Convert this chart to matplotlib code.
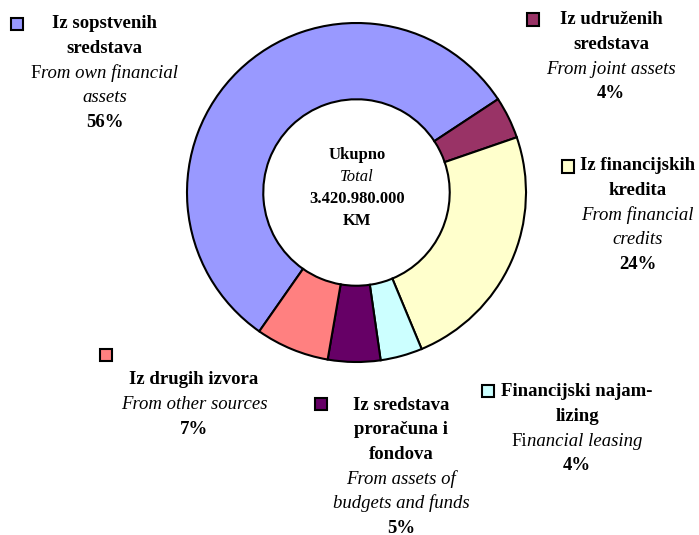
import matplotlib.pyplot as plt
from matplotlib.patches import Rectangle

plt.rcParams['font.family'] = ['Liberation Serif', 'DejaVu Serif']

W, H = 699, 535

# data
sources_bs = [
    ["Iz sopstvenih", "sredstava"],
    ["Iz udruženih", "sredstava"],
    ["Iz financijskih", "kredita"],
    ["Financijski najam-", "lizing"],
    ["Iz sredstava", "proračuna i", "fondova"],
    ["Iz drugih izvora"],
]
sources_en = [
    ["From own financial", "assets"],
    ["From joint assets"],
    ["From financial", "credits"],
    ["Financial leasing"],
    ["From assets of", "budgets and funds"],
    ["From other sources"],
]
shares = [56, 4, 24, 4, 5, 7]
colors = ["#9999FF", "#993366", "#FFFFCC", "#CCFFFF", "#660066", "#FF8080"]
total_lines = ["Ukupno", "Total", "3.420.980.000", "KM"]
# a few english lines start with upright letters in the original
upright_prefix = {"From own financial": 1, "Financial leasing": 2}

# layout (pixels from top-left): marker centre, text centre x, first line y
marker_xy = [(16.5, 24), (533, 19.5), (568, 166.5), (488, 391), (321, 404), (105.5, 355)]
text_x = [104.5, 611, 637.5, 577, 401, 194]
text_y0 = [24, 20, 166, 392, 405, 380]
step = 24.6
fs = 13.5

fig = plt.figure(figsize=(W / 100, H / 100), dpi=100)

cx, cy, r = 356.5, 192.5, 169.5
pad = 1.02
ax = fig.add_axes([(cx - r * pad) / W, (H - cy - r * pad) / H, 2 * r * pad / W, 2 * r * pad / H])
ax.pie(shares, colors=colors, startangle=235, counterclock=False, radius=1,
       wedgeprops=dict(width=0.45, edgecolor='black', linewidth=1.5))
ax.set_xlim(-pad, pad)
ax.set_ylim(-pad, pad)
ax.set_aspect('equal')
ax.axis('off')

renderer = fig.canvas.get_renderer()


def put_line(x, y, txt, weight='bold', style='normal', size=fs):
    n = upright_prefix.get(txt, 0)
    parts = [(txt[:n], 'normal'), (txt[n:], style)] if n else [(txt, style)]
    arts = [fig.text(0, 1 - y / H, p, fontsize=size, weight=weight, style=s,
                     ha='left', va='center') for p, s in parts]
    widths = [a.get_window_extent(renderer).width for a in arts]
    left = x - sum(widths) / 2
    for a, w in zip(arts, widths):
        a.set_x(left / W)
        left += w


for i in range(len(shares)):
    mx, my = marker_xy[i]
    fig.add_artist(Rectangle(((mx - 6) / W, 1 - (my + 6) / H), 12 / W, 12 / H,
                             facecolor=colors[i], edgecolor='black', linewidth=1.5,
                             transform=fig.transFigure))
    y = text_y0[i]
    for line in sources_bs[i]:
        put_line(text_x[i], y, line)
        y += step
    for line in sources_en[i]:
        put_line(text_x[i], y, line, weight='normal', style='italic')
        y += step
    put_line(text_x[i], y, f"{shares[i]}%")

# total in the hole
for j, line in enumerate(total_lines):
    if j == 1:
        put_line(357, 155 + 22 * j, line, weight='normal', style='italic', size=12)
    else:
        put_line(357, 155 + 22 * j, line, size=12)

fig.savefig("out.png", dpi=100)
